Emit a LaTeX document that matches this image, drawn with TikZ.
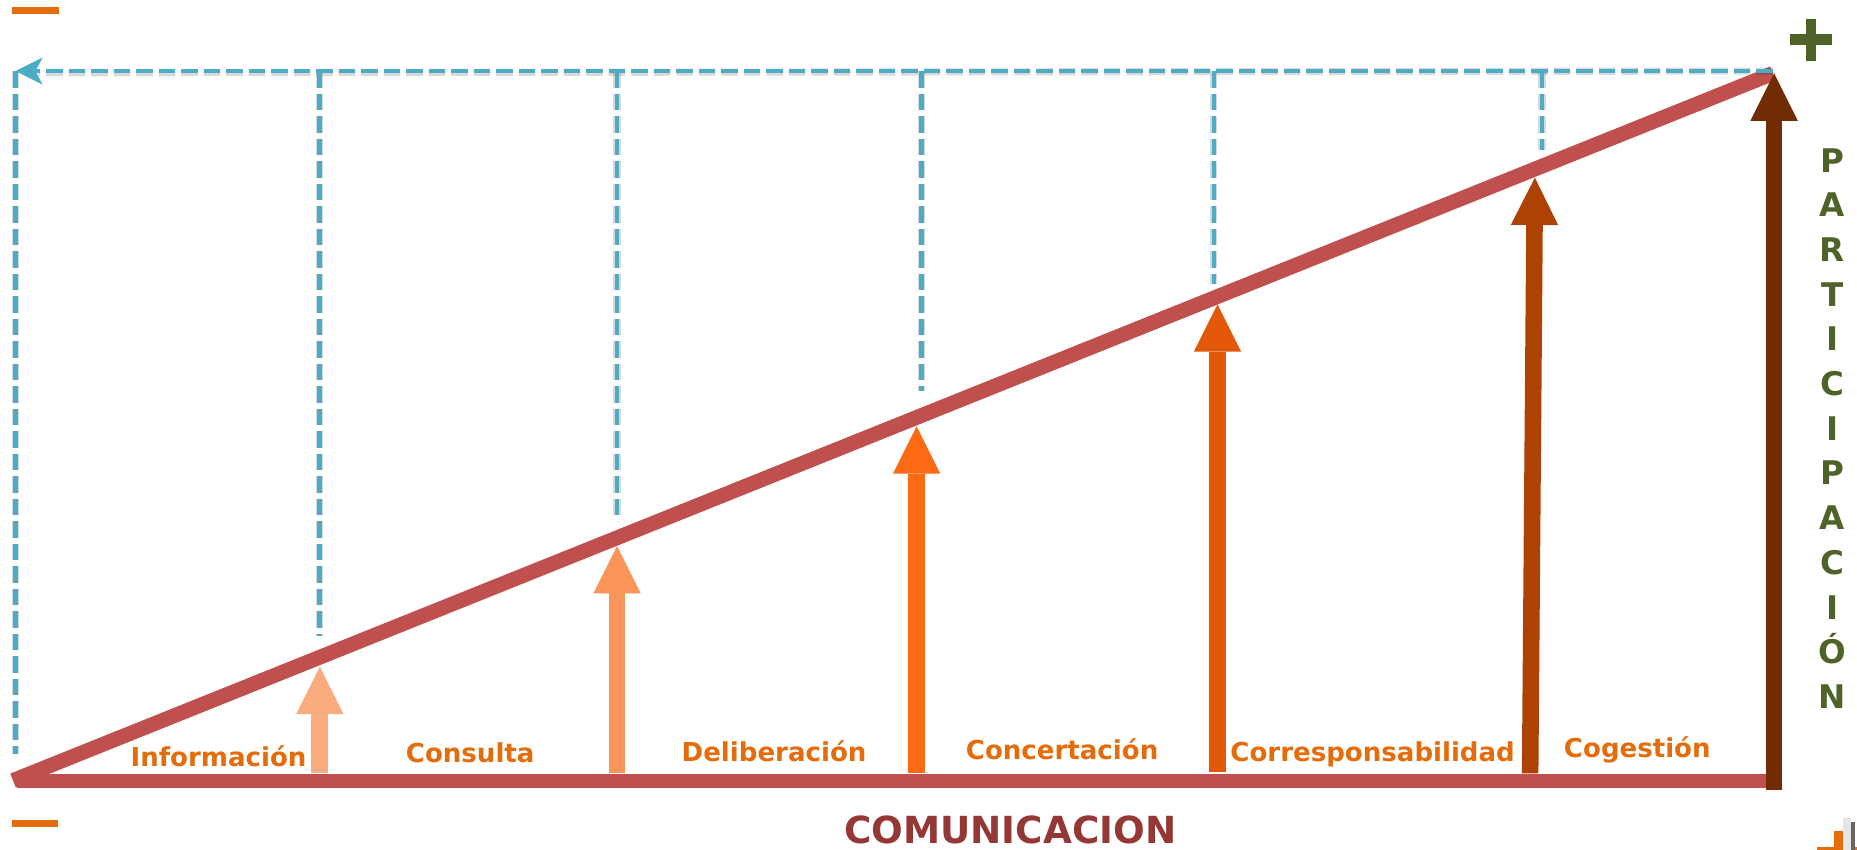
\documentclass[tikz,border=0pt]{standalone}
\usepackage{fontspec}
\setmainfont{DejaVu Sans}
\usetikzlibrary{arrows.meta}
\definecolor{redline}{RGB}{192,80,77}
\definecolor{dashblue}{RGB}{75,172,198}
\definecolor{labelorange}{RGB}{228,108,10}
\definecolor{comred}{RGB}{149,55,53}
\definecolor{partgreen}{RGB}{79,98,40}
\definecolor{aInfo}{RGB}{250,172,126}
\definecolor{aCons}{RGB}{250,148,88}
\definecolor{aDel}{RGB}{252,106,20}
\definecolor{aConc}{RGB}{226,87,8}
\definecolor{aCorr}{RGB}{173,66,4}
\definecolor{aCog}{RGB}{114,44,4}
\begin{document}
\begin{tikzpicture}[x=1pt,y=-1pt,
  redbar/.style={draw=redline, line width=12.5pt},
  dashline/.style={draw=dashblue, line width=4pt, dash pattern=on 14pt off 5pt},
  dashshadow/.style={draw=black, opacity=0.15, line width=6pt, dash pattern=on 14pt off 5pt, shift={(1.5,1.5)}},
  levelarrow/.style={line width=14pt, -{Triangle[width=40pt,length=40pt,line width=0pt]}},
  levellabel/.style={anchor=base, text=labelorange, inner sep=0pt, font=\fontsize{22}{26}\selectfont\bfseries}
]
\useasboundingbox (0,0) rectangle (1568,717.7);
\clip (0,0) rectangle (1568,717.7);

% key points
\coordinate (O) at (11,659);
\coordinate (Obase) at (14,659.5);
\coordinate (Rbase) at (1498,659.5);
\coordinate (Top) at (1497,62);

% ---------- red triangle ----------
\draw[redbar] (Obase) -- (Rbase);
\draw[redbar] (O) -- (Top);

% ---------- level arrows ----------
\coordinate (b1) at (270,653);  \coordinate (t1) at (270,563);
\coordinate (b2) at (521,653);  \coordinate (t2) at (521,461);
\coordinate (b3) at (774,653);  \coordinate (t3) at (774,360);
\coordinate (b4) at (1028,652); \coordinate (t4) at (1028,257);
\coordinate (b5) at (1292,653); \coordinate (t5) at (1296,150);
\coordinate (b6) at (1498,667); \coordinate (t6) at (1498,62);
\draw[levelarrow, aInfo] (b1) -- (t1);
\draw[levelarrow, aCons] (b2) -- (t2);
\draw[levelarrow, aDel]  (b3) -- (t3);
\draw[levelarrow, aConc] (b4) -- (t4);
\draw[levelarrow, aCorr] (b5) -- (t5);
\draw[levelarrow, aCog]  (b6) -- (t6);

% ---------- dashed frame ----------
\coordinate (dR) at (1497,60);
\coordinate (dL) at (13,60);
\coordinate (dLb) at (13,637);
\coordinate (v1t) at (270,60);  \coordinate (v1b) at (270,537);
\coordinate (v2t) at (521,60);  \coordinate (v2b) at (521,440);
\coordinate (v3t) at (778,60);  \coordinate (v3b) at (778,330);
\coordinate (v4t) at (1025,60); \coordinate (v4b) at (1025,240);
\coordinate (v5t) at (1302,60); \coordinate (v5b) at (1302,127);
\foreach \a/\b in {dL/dLb,v1t/v1b,v2t/v2b,v3t/v3b,v4t/v4b,v5t/v5b}
  \draw[dashshadow] (\a) -- (\b);
\draw[dashshadow] (dR) -- (31,60);
\foreach \a/\b in {dL/dLb,v1t/v1b,v2t/v2b,v3t/v3b,v4t/v4b,v5t/v5b}
  \draw[dashline] (\a) -- (\b);
\draw[dashline, -{Stealth[length=23pt,width=23pt,inset=6pt,line width=0pt]}] (dR) -- (dL);

% ---------- labels ----------
\node[levellabel] (lInfo) at (184.5,647.5) {Información};
\node[levellabel] (lCons) at (397,643.5) {Consulta};
\node[levellabel] (lDel)  at (653.6,643) {Deliberación};
\node[levellabel] (lConc) at (896.8,641) {Concertación};
\node[levellabel] (lCorr) at (1159,642.6) {Corresponsabilidad};
\node[levellabel] (lCog)  at (1382.5,640) {Cogestión};

\node[anchor=base, text=comred, inner sep=0pt, font=\fontsize{31.5}{36}\selectfont\bfseries] (com) at (853,712) {COMUNICACION};

\node[anchor=north, text=partgreen, inner sep=0pt, align=center,
      font=\fontsize{27.5}{37.75}\selectfont\bfseries] (part) at (1547,125)
  {P\\A\\R\\T\\I\\C\\I\\P\\A\\C\\I\\Ó\\N};

% ---------- signs ----------
\fill[labelorange] (10,6) rectangle (50,12);
\fill[labelorange] (10,692) rectangle (49,698);
\fill[partgreen] (1511.3,29) rectangle (1546.7,38);
\fill[partgreen] (1524.5,15.8) rectangle (1533.5,51.2);
\fill[labelorange] (1548.6,701.7) rectangle (1556.2,737);
\fill[labelorange] (1534.5,715.4) rectangle (1570,723.4);
\fill[black!10] (1556,691) rectangle (1563,718);
\fill[black!60] (1563,694) rectangle (1566,718);
\end{tikzpicture}
\end{document}
